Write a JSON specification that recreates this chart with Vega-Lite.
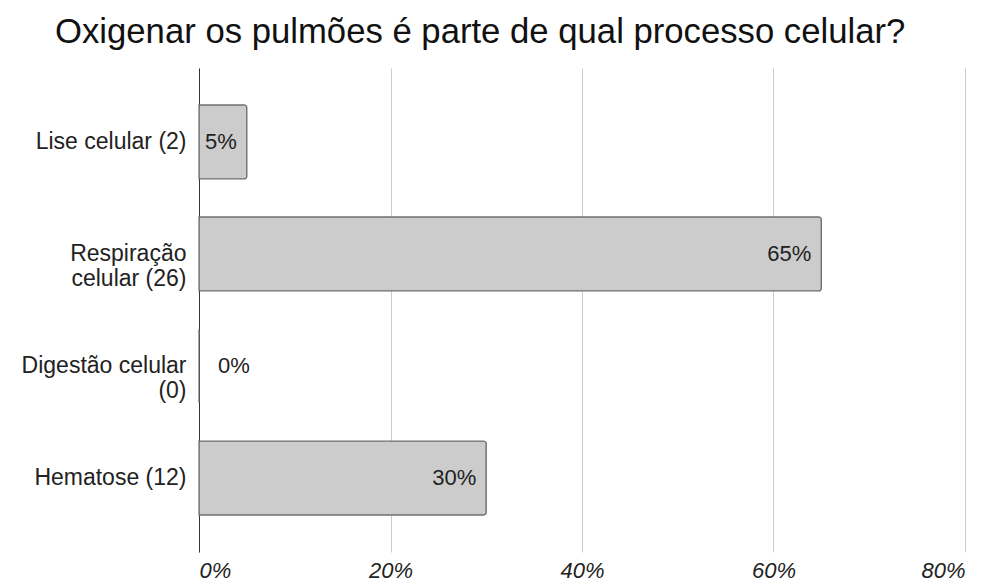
{
  "$schema": "https://vega.github.io/schema/vega-lite/v6.json",
  "autosize": "none",
  "width": 766,
  "height": 484,
  "padding": {"left": 199, "top": 68, "right": 33, "bottom": 36},
  "background": "white",
  "title": {
    "text": "Oxigenar os pulmões é parte de qual processo celular?",
    "anchor": "start",
    "frame": "group",
    "dx": -144,
    "offset": 17,
    "font": "Liberation Sans",
    "fontSize": 34.7,
    "fontWeight": "normal",
    "color": "#111111"
  },
  "data": {
    "values": [
      {"categoria": "Lise celular (2)", "rotulo": "Lise celular (2)", "valor": 0.05},
      {"categoria": "Respiração celular (26)", "rotulo": "Respiração|celular (26)", "valor": 0.65},
      {"categoria": "Digestão celular (0)", "rotulo": "Digestão celular|(0)", "valor": 0.0},
      {"categoria": "Hematose (12)", "rotulo": "Hematose (12)", "valor": 0.3}
    ]
  },
  "encoding": {
    "y": {
      "field": "rotulo",
      "type": "nominal",
      "sort": null,
      "title": null,
      "scale": {"paddingInner": 0.339, "paddingOuter": 0.33},
      "axis": {
        "domain": true,
        "domainColor": "#333333",
        "ticks": false,
        "grid": false,
        "labelExpr": "split(datum.value, '|')",
        "labelFont": "Liberation Sans",
        "labelFontSize": 23,
        "labelColor": "#222222",
        "labelPadding": 13,
        "labelLimit": 300,
        "labelLineHeight": 25
      }
    },
    "x": {
      "field": "valor",
      "type": "quantitative",
      "title": null,
      "scale": {"domain": [0, 0.8], "nice": false},
      "axis": {
        "values": [0, 0.2, 0.4, 0.6, 0.8],
        "format": ".0%",
        "domain": false,
        "ticks": false,
        "grid": true,
        "gridColor": "#cccccc",
        "labelFont": "Liberation Sans",
        "labelFontSize": 22,
        "labelFontStyle": "italic",
        "labelColor": "#222222",
        "labelPadding": 8
      }
    }
  },
  "layer": [
    {
      "mark": {"type": "bar", "fill": "#cccccc", "stroke": "#6f6f6f", "strokeWidth": 1.2, "cornerRadiusEnd": 3}
    },
    {
      "transform": [{"filter": "datum.valor > 0"}],
      "mark": {"type": "text", "align": "right", "baseline": "middle", "dx": -10, "font": "Liberation Sans", "fontSize": 22, "color": "#222222"},
      "encoding": {"text": {"field": "valor", "type": "quantitative", "format": ".0%"}}
    },
    {
      "transform": [{"filter": "datum.valor == 0"}],
      "mark": {"type": "text", "align": "left", "baseline": "middle", "dx": 19, "font": "Liberation Sans", "fontSize": 22, "color": "#222222"},
      "encoding": {"text": {"field": "valor", "type": "quantitative", "format": ".0%"}}
    }
  ],
  "config": {"view": {"stroke": null}}
}
